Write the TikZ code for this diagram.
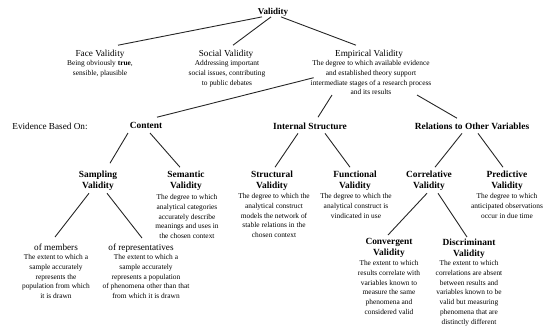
\documentclass[tikz,border=0pt]{standalone}
\usepackage{fontspec}
\setmainfont{Liberation Serif}
\begin{document}
\begin{tikzpicture}[x=1pt,y=-1pt,
  every node/.style={inner sep=0pt,outer sep=0pt,anchor=north,align=center},
  ttl/.style={font=\fontsize{9.2}{11}\selectfont},
  bttl/.style={font=\fontsize{9.4}{11}\selectfont\bfseries},
  dsc/.style={font=\fontsize{7.4}{9.8}\selectfont},
  conn/.style={draw=black!85,line width=0.9pt}]
\useasboundingbox (0,0) rectangle (545,325);
% level 0
\node[bttl,font=\fontsize{9}{11}\selectfont\bfseries] (valT) at (273,8.7) {Validity};
% level 1
\node[ttl] (faceT) at (100,49.7) {Face Validity};
\node[dsc] (faceD) at (100,60.4) {Being obviously \textbf{true},\\sensible, plausible};
\node[ttl] (socialT) at (226,49.7) {Social Validity};
\node[dsc] (socialD) at (227,60.4) {Addressing important\\social issues, contributing\\to public debates};
\node[ttl] (empT) at (369,49.7) {Empirical Validity};
\node[dsc] (empD) at (371,60.4) {The degree to which available evidence\\and established theory support\\intermediate stages of a research process\\and its results};
% level 2
\node[ttl] (eboT) at (50,122.7) {Evidence Based On:};
\node[bttl] (contentT) at (146,122.7) {Content};
\node[bttl] (internalT) at (310,122.7) {Internal Structure};
\node[bttl] (relationsT) at (472,122.7) {Relations to Other Variables};
% level 3
\node[bttl] (samplingT) at (98,170.7) {Sampling\\Validity};
\node[bttl] (semanticT) at (186,170.7) {Semantic\\Validity};
\node[dsc] (semanticD) at (187,194.4) {The degree to which\\analytical categories\\accurately describe\\meanings and uses in\\the chosen context};
\node[bttl] (structuralT) at (272,170.7) {Structural\\Validity};
\node[dsc] (structuralD) at (274,193.4) {The degree to which the\\analytical construct\\models the network of\\stable relations in the\\chosen context};
\node[bttl] (functionalT) at (355,170.7) {Functional\\Validity};
\node[dsc] (functionalD) at (356,193.4) {The degree to which the\\analytical construct is\\vindicated in use};
\node[bttl] (correlativeT) at (429,170.7) {Correlative\\Validity};
\node[bttl] (predictiveT) at (507,170.7) {Predictive\\Validity};
\node[dsc] (predictiveD) at (507,193.4) {The degree to which\\anticipated observations\\occur in due time};
% level 4
\node[ttl] (membersT) at (56,243.7) {of members};
\node[dsc] (membersD) at (56,254.4) {The extent to which a\\sample accurately\\represents the\\population from which\\it is drawn};
\node[ttl] (repsT) at (141,243.7) {of representatives};
\node[dsc] (repsD) at (146,254.4) {The extent to which a\\sample accurately\\represents a population\\of phenomena other than that\\from which it is drawn};
\node[bttl] (convergentT) at (389,238.7) {Convergent\\Validity};
\node[dsc] (convergentD) at (389,260.4) {The extent to which\\results correlate with\\variables known to\\measure the same\\phenomena and\\considered valid};
\node[bttl] (discriminantT) at (469,238.7) {Discriminant\\Validity};
\node[dsc] (discriminantD) at (469,260.4) {The extent to which\\correlations are absent\\between results and\\variables known to be\\valid but measuring\\phenomena that are\\distinctly different};
% connectors
\draw[conn] ([xshift=-11pt]valT.south) -- ([xshift=18pt,yshift=4.5pt]faceT.north);
\draw[conn] ([xshift=-2pt]valT.south) -- ([xshift=7pt,yshift=4.5pt]socialT.north);
\draw[conn] ([xshift=8pt]valT.south) -- ([xshift=-13pt,yshift=4.5pt]empT.north);
\draw[conn] ([xshift=3pt]empD.west) -- ([xshift=11pt,yshift=5.5pt]contentT.north);
\draw[conn] ([xshift=-39pt]empD.south) -- ([xshift=8pt,yshift=5.5pt]internalT.north);
\draw[conn] ([xshift=46pt]empD.south) -- ([xshift=-15pt,yshift=4.5pt]relationsT.north);
\draw[conn] ([xshift=-18pt,yshift=-4pt]contentT.south) -- ([xshift=12pt,yshift=7.5pt]samplingT.north);
\draw[conn] ([xshift=4pt,yshift=-4pt]contentT.south) -- ([xshift=-6pt,yshift=3.5pt]semanticT.north);
\draw[conn] ([xshift=-9pt,yshift=-3pt]samplingT.south) -- ([xshift=-1pt,yshift=6.7pt]membersT.north);
\draw[conn] ([xshift=9pt,yshift=-3pt]samplingT.south) -- ([xshift=1pt,yshift=5.7pt]repsT.north);
\draw[conn] ([xshift=-12pt,yshift=-4pt]internalT.south) -- ([xshift=3pt,yshift=3.5pt]structuralT.north);
\draw[conn] ([xshift=15pt,yshift=-4pt]internalT.south) -- ([xshift=-5pt,yshift=3.5pt]functionalT.north);
\draw[conn] ([xshift=-10pt,yshift=-4pt]relationsT.south) -- ([xshift=6pt,yshift=3.5pt]correlativeT.north);
\draw[conn] ([xshift=6pt,yshift=-4pt]relationsT.south) -- ([xshift=-4pt,yshift=3.5pt]predictiveT.north);
\draw[conn] ([xshift=-2pt,yshift=-3pt]correlativeT.south) -- ([xshift=-1pt,yshift=3.7pt]convergentT.north);
\draw[conn] ([xshift=9pt,yshift=-3pt]correlativeT.south) -- ([xshift=-2pt,yshift=1.7pt]discriminantT.north);
\end{tikzpicture}
\end{document}
